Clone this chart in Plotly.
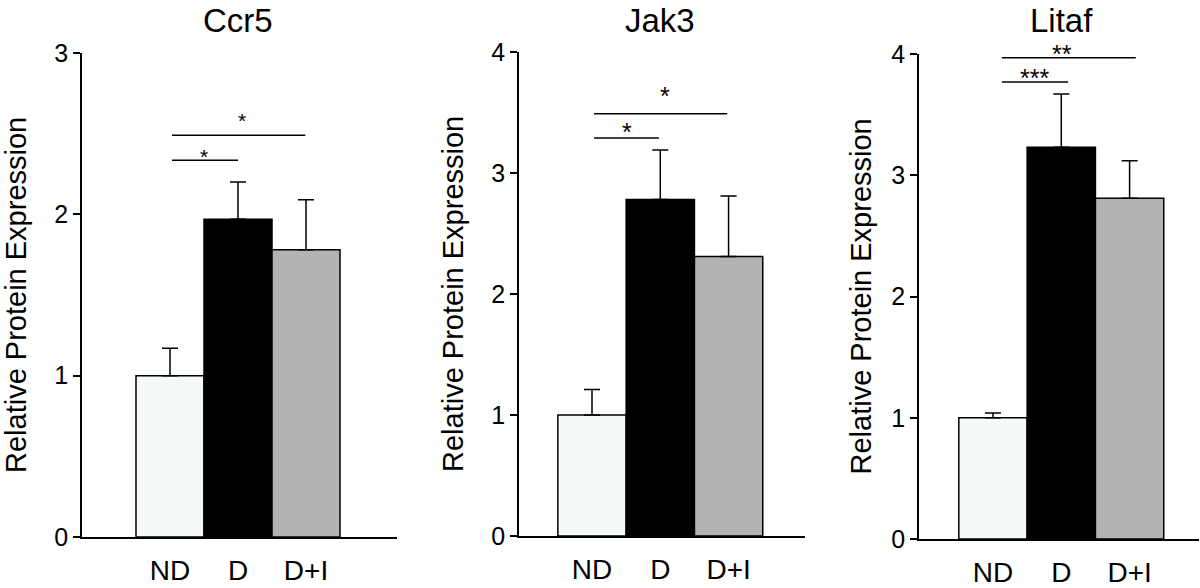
import plotly.graph_objects as go

categories = ["ND", "D", "D+I"]
genes = ["Ccr5", "Jak3", "Litaf"]

ccr5_mean = [1.00, 1.97, 1.78]
ccr5_sem = [0.17, 0.23, 0.31]
jak3_mean = [1.00, 2.78, 2.31]
jak3_sem = [0.21, 0.41, 0.50]
litaf_mean = [1.00, 3.23, 2.81]
litaf_sem = [0.04, 0.44, 0.31]

y_max = [3, 4, 4]
y_ticks = [[0, 1, 2, 3], [0, 1, 2, 3, 4], [0, 1, 2, 3, 4]]

# significance brackets: (x start, x end, line height, star x, star height, label)
ccr5_sig = [(0.03, 1.0, 2.335, 0.5, 2.39, "*"), (0.03, 1.99, 2.49, 1.06, 2.61, "*")]
jak3_sig = [(0.03, 0.98, 3.29, 0.51, 3.39, "*"), (0.03, 1.98, 3.49, 1.07, 3.68, "*")]
litaf_sig = [(0.13, 1.10, 3.77, 0.61, 3.85, "***"), (0.13, 2.09, 3.97, 1.01, 4.05, "**")]

means = [ccr5_mean, jak3_mean, litaf_mean]
sems = [ccr5_sem, jak3_sem, litaf_sem]
sigs = [ccr5_sig, jak3_sig, litaf_sig]

bar_colors = ["#f5f9fa", "#000000", "#b3b3b3"]

W, H = 1200, 588
FONT = "Liberation Sans, Arial, Helvetica, sans-serif"

# layout geometry in pixels
x_dom_px = [(82, 397), (519, 805), (919, 1199)]
y_dom_px = [(537, 53), (536, 52), (539, 54)]
x_ranges = [(-1.294, 3.338), (-1.069, 3.119), (-1.083, 3.016)]
ytitle_x_px = [16, 453, 860]
star_sizes = [21, 25, 25]

fig = go.Figure()
layout = dict(
    width=W, height=H,
    margin=dict(l=0, r=0, t=0, b=0, pad=0),
    paper_bgcolor="white", plot_bgcolor="white",
    showlegend=False,
    font=dict(family=FONT, color="black"),
)
annotations = []
shapes = []

for i in range(3):
    sfx = "" if i == 0 else str(i + 1)
    xa, ya = "x" + sfx, "y" + sfx
    fig.add_trace(go.Bar(
        x=categories, y=means[i],
        width=1.0,
        marker=dict(color=bar_colors, line=dict(color="black", width=1.5)),
        error_y=dict(type="data", symmetric=False, array=sems[i],
                     arrayminus=[0] * len(sems[i]),
                     color="black", thickness=1.5, width=8),
        xaxis=xa, yaxis=ya,
    ))
    x0, x1 = x_dom_px[i]
    yb, yt = y_dom_px[i]
    ydom = [1 - yb / H, 1 - yt / H]
    layout["xaxis" + sfx] = dict(
        domain=[x0 / W, x1 / W], range=list(x_ranges[i]), anchor=ya,
        showline=True, linecolor="black", linewidth=1.5, ticks="",
        showgrid=False, zeroline=False, tickfont=dict(size=28, family=FONT),
        ticklabelstandoff=8, fixedrange=True, automargin=False,
    )
    layout["yaxis" + sfx] = dict(
        domain=ydom, range=[0, y_max[i]], anchor=xa,
        showline=True, linecolor="black", linewidth=1.5,
        ticks="outside", ticklen=7, tickwidth=1.5, tickcolor="black",
        tickvals=y_ticks[i], showgrid=False, zeroline=False,
        tickfont=dict(size=25, family=FONT), fixedrange=True, automargin=False,
    )
    # gene title
    annotations.append(dict(
        text=genes[i], x=1, xref=xa, y=1 - 20 / H, yref="paper",
        xanchor="center", yanchor="middle", showarrow=False,
        font=dict(size=33, family=FONT),
    ))
    # y axis title
    annotations.append(dict(
        text="Relative Protein Expression", textangle=-90,
        x=ytitle_x_px[i] / W, xref="paper", y=0.5, yref=ya + " domain",
        xanchor="center", yanchor="middle", showarrow=False,
        font=dict(size=29, family=FONT),
    ))
    for (sx0, sx1, ly, stx, sty, lab) in sigs[i]:
        shapes.append(dict(type="line", xref=xa, yref=ya, x0=sx0, x1=sx1,
                           y0=ly, y1=ly, line=dict(color="black", width=1.5)))
        fs = star_sizes[i]
        # star height expressed in the y-axis domain fraction (may exceed 1)
        annotations.append(dict(
            text=lab, x=stx, xref=xa, y=sty / y_max[i], yref=ya + " domain",
            xanchor="center", yanchor="middle", showarrow=False,
            yshift=-0.23 * fs, font=dict(size=fs, family=FONT),
        ))

layout["annotations"] = annotations
layout["shapes"] = shapes
fig.update_layout(**layout)
fig.write_html(
    "out.html",
    config={"displayModeBar": False},
    post_script="document.body.style.margin='0';document.body.style.overflow='hidden';",
)
